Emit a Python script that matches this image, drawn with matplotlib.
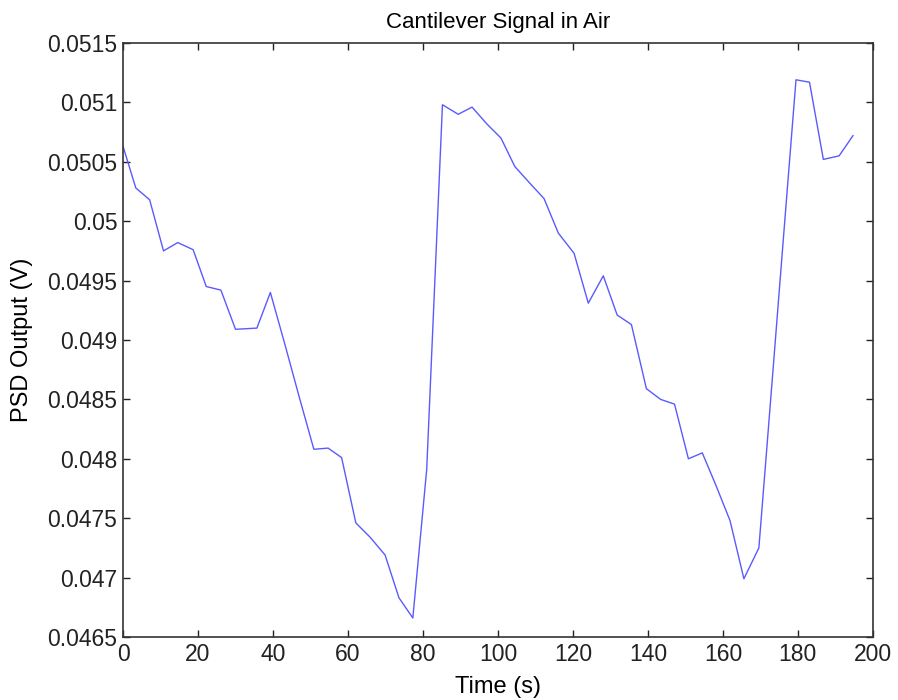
import matplotlib
matplotlib.use("Agg")
import matplotlib.pyplot as plt
from matplotlib.ticker import FuncFormatter

plt.rcParams['font.family'] = ['Liberation Sans', 'DejaVu Sans']

time_s = [0, 3.4, 7.1, 10.8, 14.6, 18.7, 22.2, 26.1, 30.0, 35.7,
          39.3, 43.2, 47.0, 50.9, 54.7, 58.3, 62.1, 65.9, 69.9, 73.6,
          77.3, 81.0, 85.2, 89.4, 93.1, 97.0, 100.8, 104.5, 108.5, 112.3,
          116.1, 120.3, 124.1, 128.1, 131.8, 135.6, 139.6, 143.4, 147.1, 150.8,
          154.5, 158.1, 161.9, 165.6, 169.6, 173.2, 176.5, 179.5, 183.1, 186.8,
          191.0, 194.7]
psd_v = [0.05063, 0.05028, 0.05018, 0.04975, 0.04982, 0.04976, 0.04945, 0.04942, 0.04909, 0.04910,
         0.04940, 0.04896, 0.04852, 0.04808, 0.04809, 0.04801, 0.04746, 0.04734, 0.04719, 0.04683,
         0.04666, 0.04791, 0.05098, 0.05090, 0.05096, 0.05082, 0.05070, 0.05046, 0.05032, 0.05019,
         0.04990, 0.04973, 0.04931, 0.04954, 0.04921, 0.04913, 0.04859, 0.04850, 0.04846, 0.04800,
         0.04805, 0.04778, 0.04748, 0.04699, 0.04725, 0.04868, 0.05000, 0.05119, 0.05117, 0.05052,
         0.05055, 0.05072]

x_ticks = [0, 20, 40, 60, 80, 100, 120, 140, 160, 180, 200]
y_ticks = [0.0465, 0.047, 0.0475, 0.048, 0.0485, 0.049, 0.0495, 0.05, 0.0505, 0.051, 0.0515]

fig = plt.figure(figsize=(8.98, 7.0), dpi=100)
ax = fig.add_axes([0.137, 0.09, 0.835, 0.8486])
ax.plot(time_s, psd_v, color='#5a5aff', linewidth=1.0)

ax.set_xlim(0, 200)
ax.set_ylim(0.0465, 0.0515)
ax.set_xticks(x_ticks)
ax.set_yticks(y_ticks)
ax.yaxis.set_major_formatter(FuncFormatter(lambda v, p: ('%.4f' % v).rstrip('0').rstrip('.')))
ax.xaxis.set_major_formatter(FuncFormatter(lambda v, p: '%g' % v))
ax.tick_params(direction='in', top=True, right=True, length=5, width=1,
               labelsize=16.5, colors='#222222', pad=4)
for s in ax.spines.values():
    s.set_color('#333333')
    s.set_linewidth(1.2)

ax.set_title('Cantilever Signal in Air', fontsize=16, pad=11)
ax.set_xlabel('Time (s)', fontsize=17)
ax.set_ylabel('PSD Output (V)', fontsize=17)
ax.xaxis.set_label_coords(0.5, -0.066)
ax.yaxis.set_label_coords(-0.12, 0.5)

fig.savefig('out.png', dpi=100)
